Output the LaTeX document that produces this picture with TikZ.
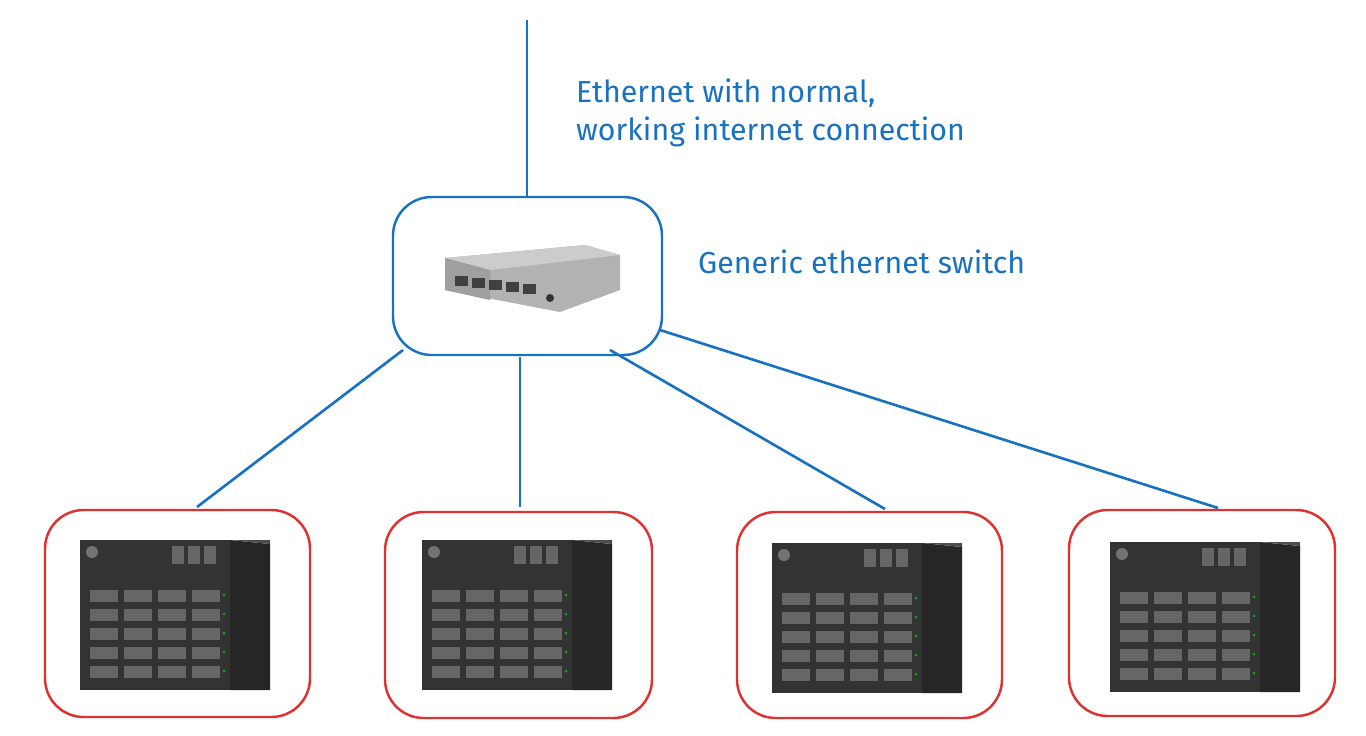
\documentclass[tikz,border=0pt]{standalone}
\usepackage{fontspec}
\setmainfont{Fira Sans}
\usetikzlibrary{positioning}
\definecolor{skyblue}{HTML}{1971C2}
\definecolor{boxred}{HTML}{E03131}
\tikzset{
  % rounded frames
  frame/.style={draw, rounded corners=22pt, line width=1.4pt},
  hub/.style={frame, draw=skyblue},
  rig/.style={frame, draw=boxred},
  link/.style={skyblue, line width=1.5pt},
  note/.style={skyblue, font=\LARGE, align=left, anchor=west},
}
% one miner cube, front face at (#1,#2) top left
\newcommand{\rigbody}[2]{
  \begin{scope}[shift={(#1,#2)}]
    \fill[black!85] (150,0) -- (190,4) -- (190,150) -- (150,150) -- cycle;
    \fill[black!80] (0,0) rectangle (150,150);
    \fill[black!70] (150,0) -- (190,4) -- (190,0) -- cycle;
    \foreach \r in {0,...,4}
      \foreach \c in {0,...,3}
        \fill[black!60] (10+\c*34,50+\r*19) rectangle ++(28,12);
    \foreach \r in {0,...,4}
      \fill[green!70!black] (144,55+\r*19) circle (1.5);
    \fill[black!55] (12,12) circle (6);
    \foreach \c in {0,1,2}
      \fill[black!60] (92+\c*16,6) rectangle ++(12,18);
  \end{scope}
}
\begin{document}
\begin{tikzpicture}[x=0.02cm, y=-0.02cm]
  \useasboundingbox (0,0) rectangle (1366,735);

  % switch
  \node[hub, minimum width=269*0.02cm, minimum height=158*0.02cm] (sw) at (527.5,276) {};
  \fill[gray!60] (445,258) -- (585,245) -- (620,255) -- (620,290) -- (560,312) -- (445,290) -- cycle;
  \fill[gray!40] (445,258) -- (585,245) -- (620,255) -- (490,270) -- cycle;
  \fill[gray!75] (445,258) -- (490,270) -- (490,300) -- (445,290) -- cycle;
  \foreach \k in {0,...,4}
    \fill[black!75] (455+\k*17,276+\k*2) rectangle ++(13,10);
  \fill[black!80] (550,298) circle (4);

  \coordinate (up) at (527,20);
  \draw[link] (up) -- (sw.north -| up);

  \node[note] (inet) at (570,113) {Ethernet with normal,\\working internet connection};
  \node[note] (swlbl) at (692,262) {Generic ethernet switch};

  % miners
  \node[rig, minimum width=265*0.02cm, minimum height=207*0.02cm] (r1) at (177.5,613.5) {};
  \node[rig, minimum width=267*0.02cm, minimum height=206*0.02cm] (r2) at (518.5,615) {};
  \node[rig, minimum width=265*0.02cm, minimum height=206*0.02cm] (r3) at (869.5,615) {};
  \node[rig, minimum width=266*0.02cm, minimum height=206*0.02cm] (r4) at (1202,613) {};
  \rigbody{80}{540}
  \rigbody{422}{540}
  \rigbody{772}{543}
  \rigbody{1110}{542}

  % links
  \coordinate (s1) at (403,350);
  \coordinate (s2) at (520,357);
  \coordinate (s3) at (610,350);
  \coordinate (s4) at (660,330);
  \coordinate (e1) at (197,507);
  \coordinate (e2) at (520,507);
  \coordinate (e3) at (885,509);
  \coordinate (e4) at (1218,508);
  \draw[link] (s1) -- (e1);
  \draw[link] (s2) -- (e2);
  \draw[link] (s3) -- (e3);
  \draw[link] (s4) -- (e4);
\end{tikzpicture}
\end{document}
